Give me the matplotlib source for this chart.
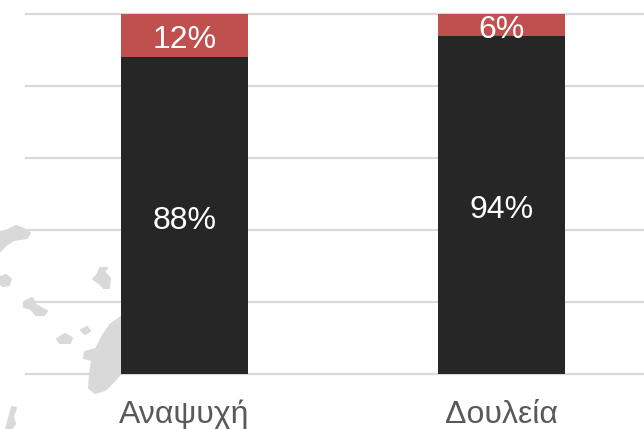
import matplotlib
matplotlib.use("Agg")
import matplotlib.pyplot as plt
from matplotlib.patches import Polygon

plt.rcParams["font.family"] = ["Liberation Sans", "DejaVu Sans"]

categories = ["Αναψυχή", "Δουλεία"]
dark_values = [88, 94]
red_values = [12, 6]
dark_labels = ["88%", "94%"]
red_labels = ["12%", "6%"]

DARK = "#262626"
RED = "#C0504D"
GRID = "#D9D9D9"
TEXT = "#595959"
MAP = "#D9D9D9"

W, H = 644, 429

# faint island shapes behind the chart, in pixels of the image
islands = [
    [(0, 232), (8, 230), (16, 226), (24, 229), (30, 233), (27, 238), (14, 240), (6, 245), (0, 251)],
    [(0, 277), (6, 275), (11, 279), (9, 285), (3, 286), (0, 284)],
    [(100, 268), (107, 268), (104, 272), (110, 278), (109, 288), (104, 288), (99, 283), (93, 279), (98, 274)],
    [(24, 302), (32, 298), (36, 305), (47, 311), (44, 315), (36, 315), (31, 309), (24, 307)],
    [(57, 339), (65, 334), (72, 338), (70, 343), (60, 343)],
    [(81, 330), (87, 327), (90, 331), (85, 334)],
    [(121, 317), (110, 325), (102, 337), (96, 349), (85, 352), (84, 358), (92, 360), (90, 375),
     (89, 388), (95, 393), (105, 390), (115, 380), (125, 368)],
    [(12, 407), (16, 408), (13, 416), (15, 424), (11, 429), (6, 429), (9, 418)],
]

fig = plt.figure(figsize=(W / 100, H / 100), dpi=100, facecolor="white")
for shape in islands:
    pts = [(x / W, 1 - y / H) for x, y in shape]
    fig.add_artist(Polygon(pts, closed=True, transform=fig.transFigure, facecolor=MAP, edgecolor=MAP,
                           lw=1.5, joinstyle="round", zorder=0))

ax = fig.add_axes([26 / W, 1 - 373.5 / H, 618 / W, 359.5 / H])
ax.patch.set_visible(False)

x = list(range(len(categories)))
ax.bar(x, dark_values, width=0.4, color=DARK, zorder=3)
ax.bar(x, red_values, width=0.4, bottom=dark_values, color=RED, zorder=3)

for i in x:
    ax.annotate(dark_labels[i], (i, dark_values[i] / 2), xytext=(0, -4), textcoords="offset points",
                ha="center", va="center", color="white", fontsize=23, zorder=4)
    ax.annotate(red_labels[i], (i, dark_values[i] + red_values[i] / 2), xytext=(0, -3.5), textcoords="offset points",
                ha="center", va="center", color="white", fontsize=23, zorder=4)

ax.set_xlim(-0.5, -0.5 + 618 / 317)
ax.set_ylim(0, 100)
ax.set_yticks([0, 20, 40, 60, 80, 100])
ax.set_yticklabels([])
ax.set_xticks(x)
ax.set_xticklabels(categories, fontsize=23, color=TEXT)
ax.tick_params(axis="both", length=0)
ax.tick_params(axis="x", pad=19)
ax.grid(axis="y", color=GRID, lw=1.6, zorder=1, clip_on=False)
ax.set_axisbelow(True)
for s in ax.spines.values():
    s.set_visible(False)

fig.savefig("out.png", dpi=100)
